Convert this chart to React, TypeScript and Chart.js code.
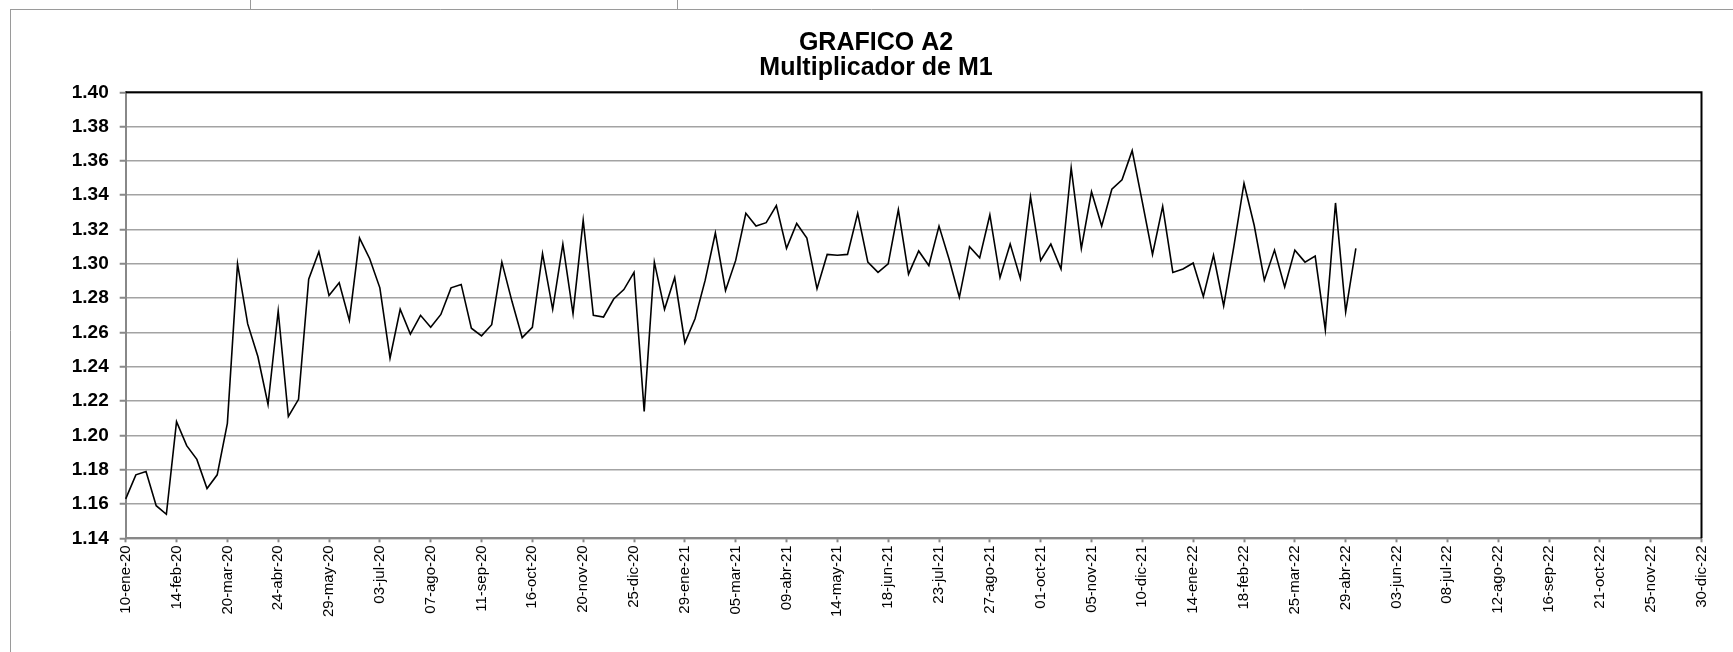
import React, { useEffect, useRef } from "react";
import { Chart, registerables } from "chart.js";

Chart.register(...registerables);

const TITLE_LINE_1 = "GRAFICO A2";
const TITLE_LINE_2 = "Multiplicador de M1";

const START_DATE = "2020-01-10";
const WEEK_COUNT = 156;
const TICK_EVERY = 5;
const MONTHS_ES = ["ene", "feb", "mar", "abr", "may", "jun", "jul", "ago", "sep", "oct", "nov", "dic"];

const Y_MIN = 1.14;
const Y_MAX = 1.4;
const Y_STEP = 0.02;

const MULTIPLICADOR_M1 = [
  1.163, 1.177, 1.179, 1.159, 1.154, 1.208, 1.194, 1.186, 1.169, 1.177,
  1.207, 1.300, 1.265, 1.246, 1.218, 1.2725, 1.211, 1.221, 1.291, 1.307,
  1.2815, 1.289, 1.267, 1.315, 1.303, 1.286, 1.245, 1.2735, 1.259, 1.270,
  1.263, 1.2705, 1.286, 1.288, 1.2625, 1.258, 1.2645, 1.301, 1.278, 1.257,
  1.263, 1.306, 1.2735, 1.3115, 1.271, 1.3255, 1.270, 1.269, 1.2795, 1.285,
  1.295, 1.214, 1.301, 1.2735, 1.292, 1.254, 1.268, 1.2905, 1.318, 1.2845,
  1.302, 1.3295, 1.322, 1.324, 1.334, 1.309, 1.3235, 1.315, 1.2855, 1.3055,
  1.305, 1.3055, 1.3295, 1.301, 1.295, 1.300, 1.3315, 1.294, 1.3075, 1.299,
  1.322, 1.3025, 1.2805, 1.310, 1.3035, 1.3285, 1.292, 1.3115, 1.2915, 1.339,
  1.302, 1.3115, 1.297, 1.356, 1.309, 1.342, 1.322, 1.3435, 1.349, 1.366,
  1.336, 1.3055, 1.3335, 1.295, 1.297, 1.3005, 1.281, 1.305, 1.2755, 1.310,
  1.347, 1.3225, 1.2905, 1.308, 1.2865, 1.308, 1.301, 1.3045, 1.2615, 1.3355,
  1.272, 1.309,
];

function buildWeekLabels(): string[] {
  const out: string[] = [];
  const base = new Date(START_DATE + "T12:00:00Z");
  for (let i = 0; i < WEEK_COUNT; i++) {
    const d = new Date(base.getTime() + i * 7 * 86400000);
    const dd = String(d.getUTCDate()).padStart(2, "0");
    const mm = MONTHS_ES[d.getUTCMonth()];
    const yy = String(d.getUTCFullYear()).slice(2);
    out.push(`${dd}-${mm}-${yy}`);
  }
  return out;
}

const FONT = "'Liberation Sans', Arial, sans-serif";

const framePlugin = {
  id: "framePlugin",
  beforeDraw(chart: any) {
    const ctx = chart.ctx;
    ctx.save();
    ctx.fillStyle = "#ffffff";
    ctx.fillRect(0, 0, chart.width, chart.height);
    ctx.strokeStyle = "#9a9a9a";
    ctx.lineWidth = 1;
    ctx.beginPath();
    ctx.moveTo(10, 9.5);
    ctx.lineTo(chart.width, 9.5);
    ctx.moveTo(10.5, 9);
    ctx.lineTo(10.5, chart.height);
    ctx.moveTo(250.5, 0);
    ctx.lineTo(250.5, 9);
    ctx.moveTo(677.5, 0);
    ctx.lineTo(677.5, 9);
    ctx.stroke();

    ctx.fillStyle = "#000000";
    ctx.font = `bold 25px ${FONT}`;
    ctx.textAlign = "center";
    ctx.textBaseline = "alphabetic";
    ctx.fillText(TITLE_LINE_1, 876, 49.5);
    ctx.fillText(TITLE_LINE_2, 876, 74.5);
    ctx.restore();
  },
  afterDatasetsDraw(chart: any) {
    const { ctx, chartArea } = chart;
    ctx.save();
    ctx.strokeStyle = "#000000";
    ctx.lineWidth = 2;
    ctx.beginPath();
    ctx.moveTo(chartArea.left, chartArea.top);
    ctx.lineTo(chartArea.right, chartArea.top);
    ctx.lineTo(chartArea.right, chartArea.bottom);
    ctx.stroke();
    ctx.restore();
  },
};

export default function App() {
  const canvasRef = useRef<HTMLCanvasElement | null>(null);

  useEffect(() => {
    if (!canvasRef.current) return;
    const labels = buildWeekLabels();
    const chart = new Chart(canvasRef.current, {
      type: "line",
      data: {
        labels,
        datasets: [
          {
            label: TITLE_LINE_2,
            data: MULTIPLICADOR_M1,
            borderColor: "#000000",
            borderWidth: 1.6,
            pointRadius: 0,
            tension: 0,
            fill: false,
          },
        ],
      },
      options: {
        responsive: false,
        animation: false,
        devicePixelRatio: 1,
        layout: { padding: { top: 92.3, left: 10, right: 31.5, bottom: 0 } },
        plugins: {
          legend: { display: false },
          title: { display: false },
          tooltip: { enabled: false },
        },
        scales: {
          x: {
            type: "category",
            offset: false,
            afterFit: (scale: any) => {
              scale.height = 113.7;
            },
            afterBuildTicks: (scale: any) => {
              scale.ticks = scale.ticks.filter((t: any) => t.value % TICK_EVERY === 0);
            },
            grid: {
              display: true,
              drawOnChartArea: false,
              drawTicks: true,
              tickLength: 4,
              tickColor: "#888888",
              tickWidth: 2,
            },
            border: { display: true, color: "#888888", width: 2 },
            ticks: {
              autoSkip: false,
              minRotation: 90,
              maxRotation: 90,
              padding: 3,
              color: "#000000",
              font: { family: FONT, size: 15 },
            },
          },
          y: {
            min: Y_MIN,
            max: Y_MAX,
            afterFit: (scale: any) => {
              scale.width = 115.7;
            },
            grid: {
              color: "#a3a3a3",
              lineWidth: 1.5,
              drawTicks: true,
              tickLength: 6,
              tickColor: "#888888",
              tickWidth: 2,
            },
            border: { display: true, color: "#888888", width: 2 },
            ticks: {
              stepSize: Y_STEP,
              padding: 11,
              color: "#000000",
              font: { family: FONT, size: 19, weight: "bold" },
              callback: (v: any) => Number(v).toFixed(2),
            },
          },
        },
      },
      plugins: [framePlugin],
    });
    return () => chart.destroy();
  }, []);

  return (
    <div style={{ position: "absolute", left: 0, top: 0, width: 1733, height: 652, background: "#fff" }}>
      <canvas ref={canvasRef} width={1733} height={652} style={{ display: "block" }} />
    </div>
  );
}
